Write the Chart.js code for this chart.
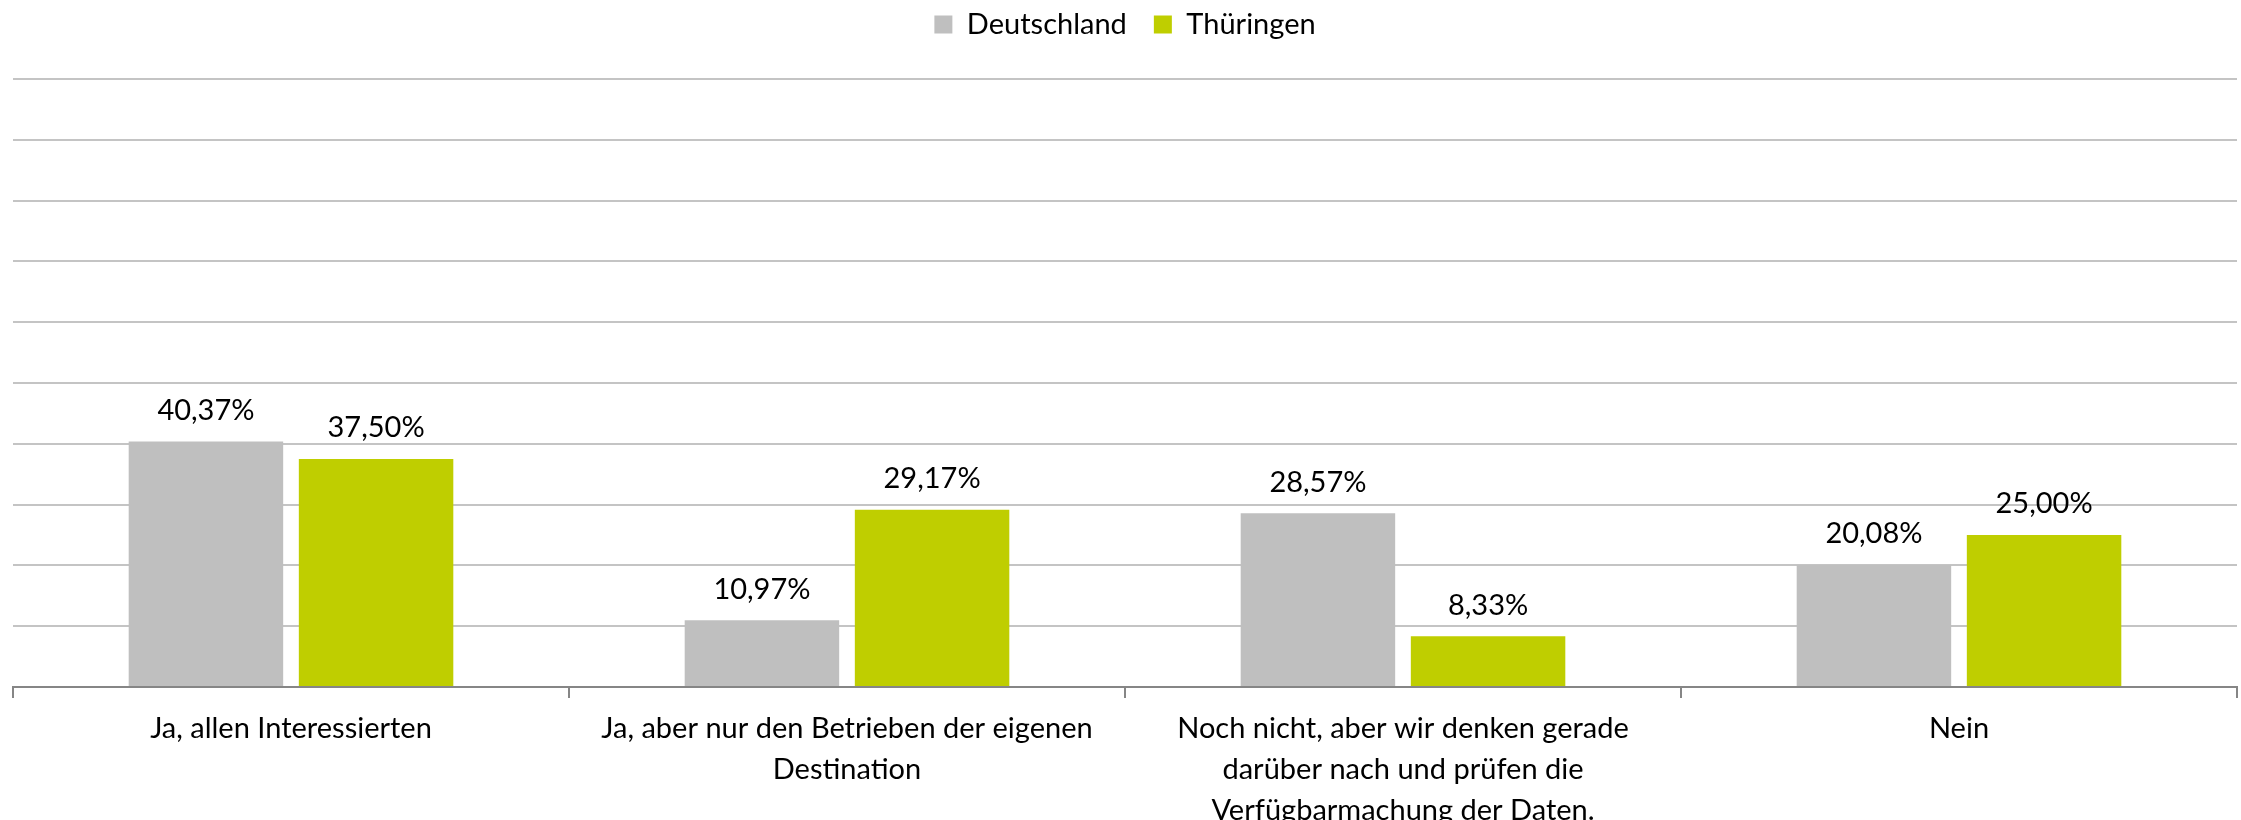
<!DOCTYPE html>
<html>
<head>
<meta charset="utf-8">
<script src="https://cdn.jsdelivr.net/npm/chart.js@4/dist/chart.umd.min.js"></script>
<style>
  html, body { margin: 0; padding: 0; background: #fff; }
  .chartBox { width: 2241px; height: 820px; }
</style>
</head>
<body>
<div class="chartBox"><canvas id="chart"></canvas></div>
<script>
// Daten aus der Grafik
const categories = [
    'Ja, allen Interessierten',
    ['Ja, aber nur den Betrieben der eigenen', 'Destination'],
    ['Noch nicht, aber wir denken gerade', 'darüber nach und prüfen die', 'Verfügbarmachung der Daten.'],
    'Nein'
];
const deutschland = [40.37, 10.97, 28.57, 20.08];
const thueringen = [37.50, 29.17, 8.33, 25.00];

const FONT = 'Lato';

// Prozentwerte über die Balken schreiben
const barLabels = {
    id: 'barLabels',
    afterDatasetsDraw(chart) {
        const ctx = chart.ctx;
        ctx.save();
        ctx.font = '29px ' + FONT;
        ctx.fillStyle = '#000';
        ctx.textAlign = 'center';
        ctx.textBaseline = 'middle';
        chart.data.datasets.forEach((ds, i) => {
            chart.getDatasetMeta(i).data.forEach((bar, j) => {
                const text = ds.data[j].toFixed(2).replace('.', ',') + '%';
                ctx.fillText(text, bar.x, bar.y - 31);
            });
        });
        ctx.restore();
    }
};

new Chart(document.getElementById('chart'), {
    type: 'bar',
    data: {
        labels: categories,
        datasets: [
            {
                label: 'Deutschland',
                data: deutschland,
                backgroundColor: '#BFBFBF',
                categoryPercentage: 0.612,
                barPercentage: 0.908
            },
            {
                label: 'Thüringen',
                data: thueringen,
                backgroundColor: '#BFCE00',
                categoryPercentage: 0.612,
                barPercentage: 0.908
            }
        ]
    },
    options: {
        responsive: true,
        maintainAspectRatio: false,
        animation: false,
        layout: { padding: { left: 13, right: 4, top: -17, bottom: 0 } },
        plugins: {
            legend: {
                position: 'top',
                labels: {
                    font: { family: FONT, size: 29 },
                    color: '#000',
                    boxWidth: 18,
                    boxHeight: 18,
                    padding: 27
                }
            },
            // leerer Titel als Abstand zwischen Legende und Diagramm
            title: { display: true, text: '', weight: 500, padding: 0, font: { size: 25 } },
            tooltip: { enabled: false }
        },
        scales: {
            x: {
                grid: {
                    offset: true,
                    drawOnChartArea: false,
                    drawTicks: true,
                    tickLength: 11,
                    color: '#868686',
                    lineWidth: 2
                },
                border: { color: '#868686', width: 2 },
                ticks: {
                    font: { family: FONT, size: 29, lineHeight: 1.41 },
                    color: '#000',
                    maxRotation: 0,
                    autoSkip: false,
                    padding: 10
                },
                afterFit: (scale) => { scale.height = 133; }
            },
            y: {
                min: 0,
                max: 100,
                ticks: { display: false, stepSize: 10 },
                grid: { color: '#C4C4C4', lineWidth: 2, drawTicks: false },
                border: { display: false }
            }
        }
    },
    plugins: [barLabels]
});
</script>
</body>
</html>
